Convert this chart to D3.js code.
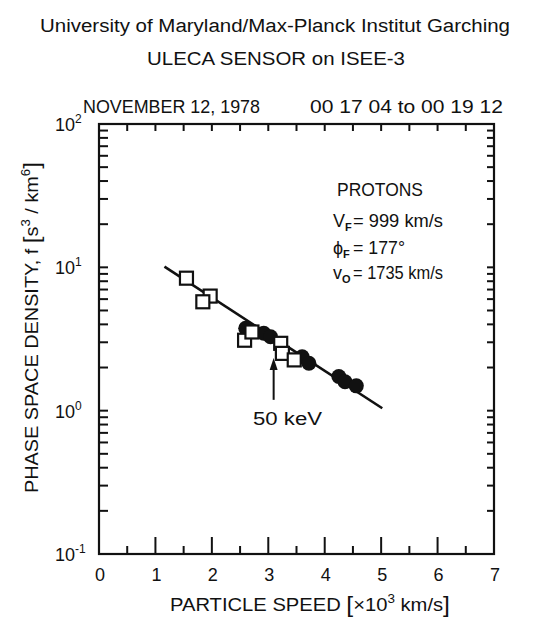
<!DOCTYPE html>
<html><head><meta charset="utf-8">
<script src="https://cdn.jsdelivr.net/npm/d3@7"></script>
<style>
body{margin:0;background:#fff}
text{font-family:"Liberation Sans",Arial,sans-serif;fill:#111}
</style>
</head><body><svg id="c" width="541" height="617"></svg>
<script>
// ---- data ----
const squareSpeed = [1.55, 1.97, 1.84, 2.58, 2.71, 3.22, 3.25, 3.46];   // 10^3 km/s
const squareF     = [8.4, 6.3, 5.75, 3.10, 3.54, 2.95, 2.51, 2.26];      // s^3/km^6
const circleSpeed = [2.60, 2.92, 3.04, 3.60, 3.72, 4.25, 4.36, 4.56];
const circleF     = [3.76, 3.47, 3.28, 2.38, 2.14, 1.73, 1.59, 1.49];
const fitSpeed = [1.16, 5.02];
const fitF     = [10.1, 1.04];
const arrowSpeed = 3.095;            // 50 keV proton
const arrowF = [1.19, 2.33];
const xTickValues = [0, 1, 2, 3, 4, 5, 6, 7];
const yDecades = [0.1, 1, 10, 100];
const yDecadeLabels = [["10","-1"],["10","0"],["10","1"],["10","2"]];
const infoLines = [
  {main:"V", sub:"F", rest:"= 999 km/s"},
  {main:"\u03D5", sub:"F", rest:"= 177\u00B0"},
  {main:"v", sub:"O", rest:"= 1735 km/s"}
];

const svg = d3.select("#c");
const L = 99, R = 494, T = 124, B = 554;
const x = d3.scaleLinear().domain([0, 7]).range([L, R]);
const y = d3.scaleLog().domain([0.1, 100]).range([B, T]);
const ink = "#111";

// titles
svg.append("text").attr("x", 40).attr("y", 32).attr("font-size", 18)
  .attr("textLength", 470).attr("lengthAdjust", "spacingAndGlyphs")
  .text("University of Maryland/Max-Planck Institut Garching");
svg.append("text").attr("x", 147).attr("y", 65).attr("font-size", 18)
  .attr("textLength", 258).attr("lengthAdjust", "spacingAndGlyphs")
  .text("ULECA SENSOR on ISEE-3");
svg.append("text").attr("x", 83).attr("y", 113).attr("font-size", 17.5)
  .attr("textLength", 177).attr("lengthAdjust", "spacingAndGlyphs")
  .text("NOVEMBER 12, 1978");
svg.append("text").attr("x", 310).attr("y", 113).attr("font-size", 17.5)
  .attr("textLength", 193).attr("lengthAdjust", "spacingAndGlyphs")
  .text("00 17 04 to 00 19 12");

// frame
svg.append("rect").attr("x", L).attr("y", T).attr("width", R - L).attr("height", B - T)
  .attr("fill", "none").attr("stroke", ink).attr("stroke-width", 2.2);

// x ticks (bottom long/short, top short)
const halfTicks = d3.range(0.5, 7, 0.5);
svg.append("g").selectAll("line").data(halfTicks).join("line")
  .attr("x1", d => x(d)).attr("x2", d => x(d))
  .attr("y1", B).attr("y2", d => B - (Number.isInteger(d) ? 17 : 8))
  .attr("stroke", ink).attr("stroke-width", 2);
svg.append("g").selectAll("line").data(halfTicks).join("line")
  .attr("x1", d => x(d)).attr("x2", d => x(d))
  .attr("y1", T).attr("y2", T + 7)
  .attr("stroke", ink).attr("stroke-width", 2);

// y ticks (log minor)
const yMinor = [];
[0.1, 1, 10].forEach(d => { for (let k = 1; k <= 9; k++) if (!(d === 0.1 && k === 1)) yMinor.push(k * d); });
svg.append("g").selectAll("line").data(yMinor).join("line")
  .attr("x1", L).attr("x2", L + 9)
  .attr("y1", d => y(d)).attr("y2", d => y(d))
  .attr("stroke", ink).attr("stroke-width", 2);
svg.append("g").selectAll("line").data(yMinor).join("line")
  .attr("x1", R).attr("x2", R - 7)
  .attr("y1", d => y(d)).attr("y2", d => y(d))
  .attr("stroke", ink).attr("stroke-width", 2);

// x tick labels
svg.append("g").selectAll("text").data(xTickValues).join("text")
  .attr("x", d => x(d) + 1).attr("y", 581).attr("font-size", 18).attr("text-anchor", "middle")
  .text(d => d);

// y tick labels
const yl = svg.append("g").selectAll("text").data(yDecades).join("text")
  .attr("x", 55).attr("y", d => y(d) + 7).attr("font-size", 18);
yl.append("tspan").text((d, i) => yDecadeLabels[i][0]);
yl.append("tspan").attr("font-size", 12).attr("dy", -8).text((d, i) => yDecadeLabels[i][1]);

// axis titles
const xt = svg.append("text").attr("x", 170).attr("y", 611).attr("font-size", 18)
  .attr("textLength", 280).attr("lengthAdjust", "spacingAndGlyphs");
xt.append("tspan").text("PARTICLE SPEED ");
xt.append("tspan").attr("font-size", 22).attr("dy", 1).text("[");
xt.append("tspan").attr("dy", -1).text("\u00D710");
xt.append("tspan").attr("font-size", 12).attr("dy", -8).text("3");
xt.append("tspan").attr("dy", 8).text(" km/s");
xt.append("tspan").attr("font-size", 22).attr("dy", 1).text("]");

const yt = svg.append("text").attr("transform", "translate(38,493) rotate(-90)").attr("font-size", 18)
  .attr("textLength", 331).attr("lengthAdjust", "spacingAndGlyphs");
yt.append("tspan").text("PHASE SPACE DENSITY,  f  ");
yt.append("tspan").attr("font-size", 22).attr("dy", 1).text("[");
yt.append("tspan").attr("dy", -1).text("s");
yt.append("tspan").attr("font-size", 12).attr("dy", -8).text("3");
yt.append("tspan").attr("dy", 8).text(" / km");
yt.append("tspan").attr("font-size", 12).attr("dy", -8).text("6");
yt.append("tspan").attr("font-size", 22).attr("dy", 9).text("]");

// fit line
svg.append("path")
  .datum(fitSpeed.map((s, i) => [s, fitF[i]]))
  .attr("d", d3.line().x(d => x(d[0])).y(d => y(d[1])))
  .attr("stroke", ink).attr("stroke-width", 2.6).attr("fill", "none");

// circles (filled)
svg.append("g").selectAll("circle").data(circleSpeed.map((s, i) => [s, circleF[i]])).join("circle")
  .attr("cx", d => x(d[0])).attr("cy", d => y(d[1])).attr("r", 7.5)
  .attr("fill", ink);

// squares (open)
const sq = 13;
svg.append("g").selectAll("rect").data(squareSpeed.map((s, i) => [s, squareF[i]])).join("rect")
  .attr("x", d => x(d[0]) - sq / 2).attr("y", d => y(d[1]) - sq / 2)
  .attr("width", sq).attr("height", sq)
  .attr("fill", "#fff").attr("stroke", ink).attr("stroke-width", 2.2);

// 50 keV arrow
const ax = x(arrowSpeed);
svg.append("line").attr("x1", ax).attr("x2", ax)
  .attr("y1", y(arrowF[0])).attr("y2", y(arrowF[1]) + 8)
  .attr("stroke", ink).attr("stroke-width", 2);
svg.append("path")
  .attr("d", `M${ax},${y(arrowF[1])} L${ax - 4},${y(arrowF[1]) + 12} L${ax + 4},${y(arrowF[1]) + 12} Z`)
  .attr("fill", ink);
svg.append("text").attr("x", 253).attr("y", 425).attr("font-size", 18)
  .attr("textLength", 69).attr("lengthAdjust", "spacingAndGlyphs").text("50 keV");

// info block
svg.append("text").attr("x", 337).attr("y", 196).attr("font-size", 18)
  .attr("textLength", 86).attr("lengthAdjust", "spacingAndGlyphs").text("PROTONS");
const infoY = [227, 254, 279];
const restLen = [90, 52, 90];
infoLines.forEach((ln, i) => {
  const t = svg.append("text").attr("x", 333).attr("y", infoY[i]).attr("font-size", 18);
  t.append("tspan").text(ln.main);
  t.append("tspan").attr("font-size", 11).attr("font-weight", "bold").attr("dy", 4).text(ln.sub);
  svg.append("text").attr("x", 353).attr("y", infoY[i]).attr("font-size", 18)
    .attr("textLength", restLen[i]).attr("lengthAdjust", "spacingAndGlyphs").text(ln.rest);
});
</script></body></html>
